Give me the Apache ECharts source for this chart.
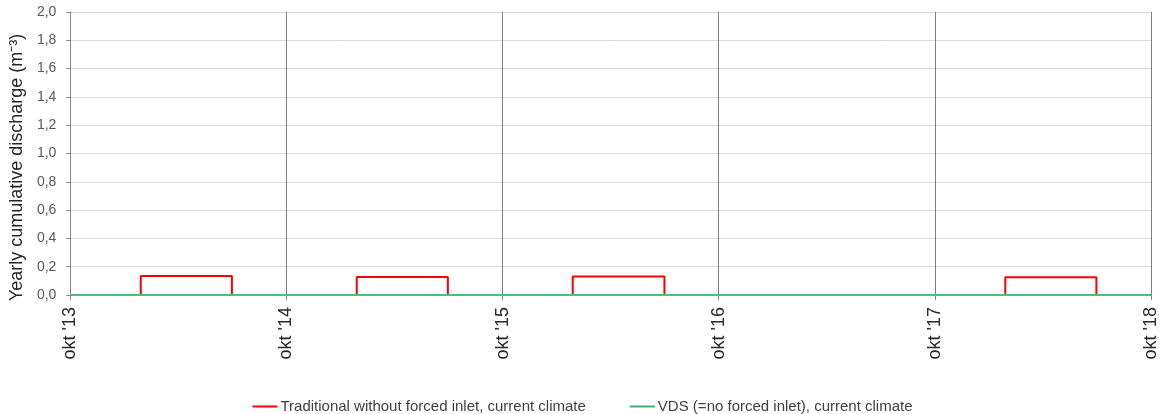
<!DOCTYPE html>
<html>
<head>
<meta charset="utf-8">
<script src="https://cdn.jsdelivr.net/npm/echarts@6/dist/echarts.min.js"></script>
<style>
  html, body { margin: 0; padding: 0; background: #ffffff; }
  #chart { width: 1165px; height: 414px; }
</style>
</head>
<body>
<div id="chart"></div>
<script>
// Hydrological years, starting 1 October
const yearTickLabels = ["okt '13", "okt '14", "okt '15", "okt '16", "okt '17", "okt '18"];
const axisStart = '2013-10-01';

// Traditional drainage without forced inlet: yearly cumulative discharge (m3)
const traditionalDates = [
  '2013-10-01', '2014-01-28', '2014-01-28', '2014-07-01', '2014-07-01',
  '2015-01-28', '2015-01-28', '2015-07-01', '2015-07-01',
  '2016-01-28', '2016-01-28', '2016-07-01', '2016-07-01',
  '2018-01-28', '2018-01-28', '2018-07-01', '2018-07-01', '2018-10-01'
];
const traditionalValues = [
  0, 0, 0.134, 0.134, 0,
  0, 0.127, 0.127, 0,
  0, 0.131, 0.131, 0,
  0, 0.125, 0.125, 0, 0
];

// VDS (no forced inlet): yearly cumulative discharge (m3)
const vdsDates = ['2013-10-01', '2018-10-01'];
const vdsValues = [0, 0];

const yTicks = [0, 0.2, 0.4, 0.6, 0.8, 1.0, 1.2, 1.4, 1.6, 1.8, 2.0];

// position in years since the first 1 October
const DAY = 86400000;
function yearsSinceStart(d) {
  return (Date.parse(d) - Date.parse(axisStart)) / (365.25 * DAY);
}
function pairs(dates, values) {
  return dates.map((d, i) => [yearsSinceStart(d), values[i]]);
}

const chart = echarts.init(document.getElementById('chart'), null, { renderer: 'canvas' });
const fontFam = '"Liberation Sans", Arial, sans-serif';

chart.setOption({
  animation: false,
  backgroundColor: '#ffffff',
  grid: { left: 70, right: 14, top: 12, bottom: 119, containLabel: false },
  legend: {
    top: 394,
    left: 'center',
    itemGap: 44,
    itemWidth: 25,
    itemHeight: 2,
    icon: 'rect',
    textStyle: { fontFamily: fontFam, fontSize: 15, color: '#404040', padding: [0, 0, 0, -2] },
    data: ['Traditional without forced inlet, current climate', 'VDS (=no forced inlet), current climate']
  },
  xAxis: {
    type: 'value',
    min: 0,
    max: yearTickLabels.length - 1,
    interval: 1,
    axisLine: { show: true, onZero: false, lineStyle: { color: '#868686', width: 1 } },
    axisTick: { show: true, length: 5, inside: false, lineStyle: { color: '#868686' } },
    axisLabel: {
      rotate: 90,
      margin: 12,
      fontFamily: fontFam,
      fontSize: 18,
      color: '#262626',
      formatter: v => yearTickLabels[Math.round(v)] || ''
    },
    splitLine: { show: true, lineStyle: { color: '#7f7f7f', width: 1 } }
  },
  yAxis: {
    type: 'value',
    min: 0,
    max: 2,
    interval: 0.2,
    name: 'Yearly cumulative discharge (m\u207B\u00B3)',
    nameLocation: 'middle',
    nameGap: 41,
    nameTextStyle: { fontFamily: fontFam, fontSize: 18, color: '#262626', padding: [0, 28, 0, 0] },
    axisLine: { show: true, lineStyle: { color: '#868686', width: 1 } },
    axisTick: { show: true, length: 4, lineStyle: { color: '#868686' } },
    axisLabel: {
      margin: 14,
      fontFamily: fontFam,
      fontSize: 14,
      color: '#595959',
      formatter: v => {
        const t = yTicks.find(y => Math.abs(y - v) < 1e-9);
        return (t !== undefined ? t : v).toFixed(1).replace('.', ',');
      }
    },
    splitLine: { show: true, lineStyle: { color: '#d9d9d9', width: 1 } }
  },
  series: [
    {
      name: 'Traditional without forced inlet, current climate',
      type: 'line',
      data: pairs(traditionalDates, traditionalValues),
      showSymbol: false,
      symbol: 'none',
      color: '#ff0000',
      lineStyle: { color: '#ff0000', width: 2 },
      z: 3
    },
    {
      name: 'VDS (=no forced inlet), current climate',
      type: 'line',
      data: pairs(vdsDates, vdsValues),
      showSymbol: false,
      symbol: 'none',
      color: '#3cb371',
      lineStyle: { color: '#4cc17a', width: 2 },
      z: 4
    }
  ]
});
</script>
</body>
</html>
